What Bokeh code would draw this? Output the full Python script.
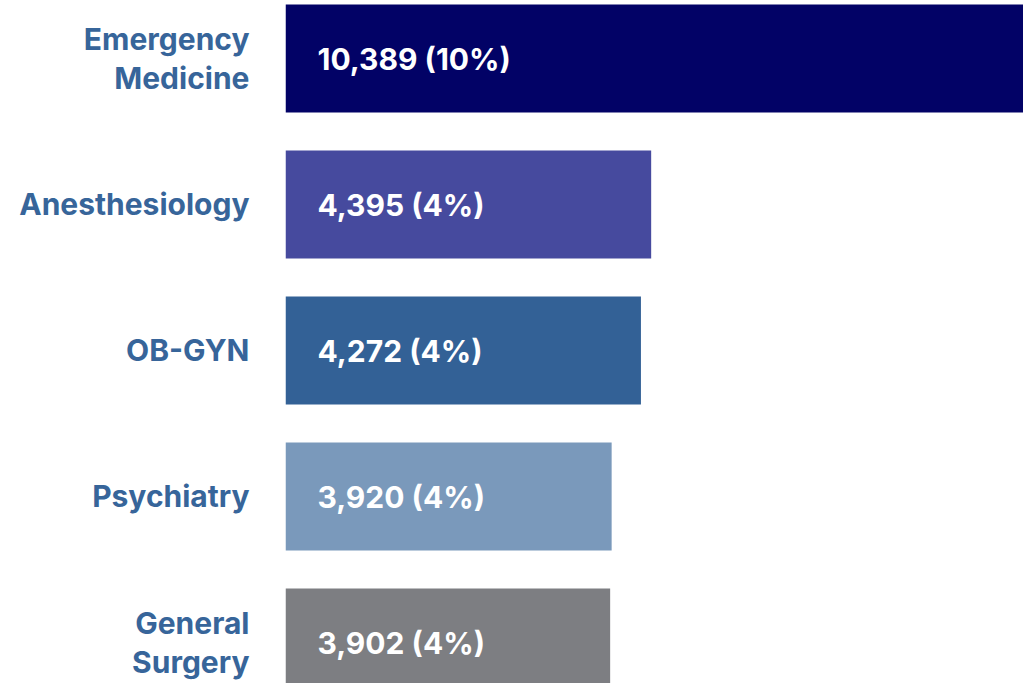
from bokeh.plotting import figure
from bokeh.models import Range1d, FixedTicker, ColumnDataSource
from bokeh.core.properties import value
from bokeh.embed import file_html
from bokeh.resources import INLINE

specialties = ["Emergency\nMedicine", "Anesthesiology", "OB-GYN", "Psychiatry", "General\nSurgery"]
counts = [10389, 4395, 4272, 3920, 3902]
shares = [10, 4, 4, 4, 4]
colors = ["#020266", "#464a9e", "#336196", "#7a99bb", "#7d7e82"]

pos = list(range(len(specialties)))
labels = [f"{c:,} ({s}%)" for c, s in zip(counts, shares)]

src = ColumnDataSource(dict(y=pos, right=counts, color=colors, label=labels, zero=[0] * len(pos)))

FONT = "Inter"

p = figure(width=1023, height=683, output_backend="svg", toolbar_location=None,
           x_range=Range1d(0, 8870), y_range=Range1d(4.281, -0.397),
           x_axis_location=None, min_border_left=285, min_border_right=0,
           min_border_top=0, min_border_bottom=0)
p.outline_line_color = None
p.grid.visible = False

p.hbar(y="y", left="zero", right="right", height=0.74, color="color", source=src, line_color=None)
p.text(x="zero", y="y", text="label", x_offset=32, y_offset=1, text_baseline="middle", text_align="left",
       text_color="white", text_font=value(FONT), text_font_style="bold",
       text_font_size="30px", source=src)

ax = p.yaxis[0]
ax.ticker = FixedTicker(ticks=pos)
ax.major_label_overrides = {i: s for i, s in zip(pos, specialties)}
ax.axis_line_color = None
ax.major_tick_line_color = None
ax.minor_tick_line_color = None
ax.major_tick_out = 0
ax.major_tick_in = 0
ax.major_label_standoff = 36
ax.major_label_text_font = FONT
ax.major_label_text_font_style = "bold"
ax.major_label_text_font_size = "30px"
ax.major_label_text_color = "#37659a"
ax.major_label_text_line_height = 1.1

open("out.html", "w").write(file_html(p, INLINE))
